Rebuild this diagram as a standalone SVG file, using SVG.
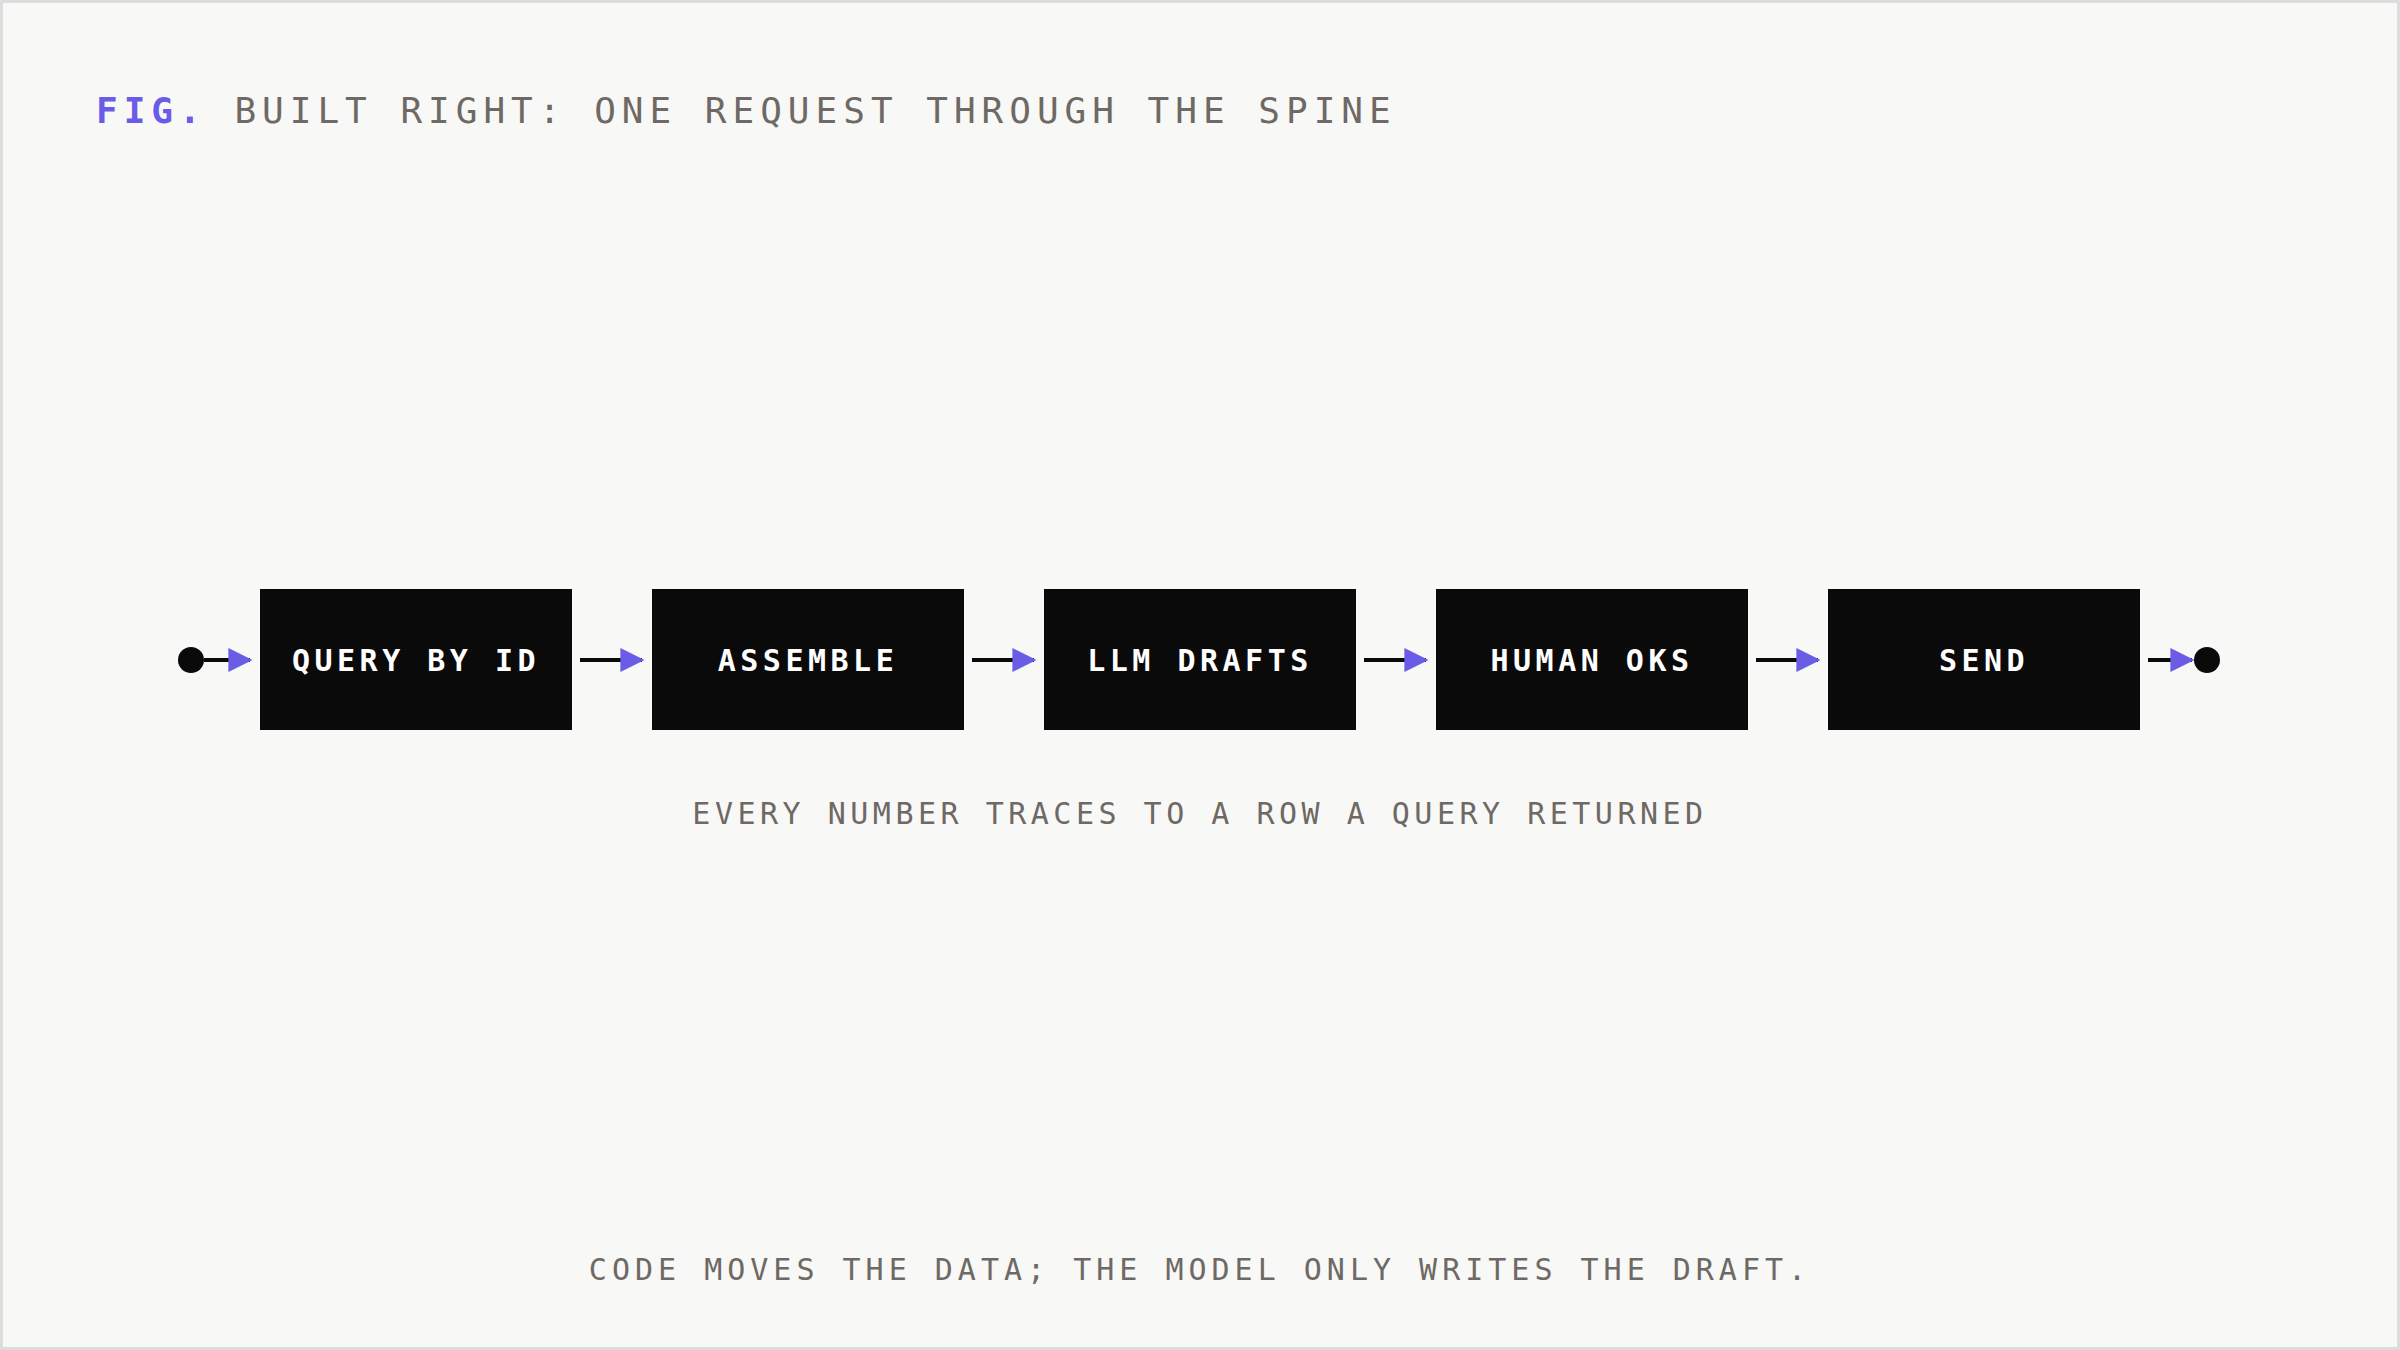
<svg xmlns="http://www.w3.org/2000/svg" width="2400" height="1350" viewBox="0 0 2400 1350">
<style>
.t{font-family:"DejaVu Sans Mono","Liberation Mono",monospace;fill:#6e6965}
.n{font-family:"DejaVu Sans Mono","Liberation Mono",monospace;font-size:30px;letter-spacing:4.5px;fill:#fff;font-weight:bold;text-anchor:middle;dominant-baseline:central}
.b{fill:#0a0a0a}
.c{stroke:#0a0a0a;stroke-width:4;fill:none;marker-end:url(#a)}
</style>
<defs><marker id="a" viewBox="0 0 10 10" refX="9" refY="5" markerWidth="6" markerHeight="6" orient="auto" markerUnits="strokeWidth"><path d="M0,0L10,5L0,10z" fill="#6b5ce7"/></marker></defs>
<rect x="1.5" y="1.5" width="2397" height="1347" fill="#f8f8f6" stroke="#dcdcdc" stroke-width="3"/>
<text class="t" x="96" y="123" font-size="36" letter-spacing="6"><tspan fill="#6b5ce7" font-weight="bold">FIG.</tspan> BUILT RIGHT: ONE REQUEST THROUGH THE SPINE</text>
<g id="start"><circle cx="191" cy="660" r="13" fill="#0a0a0a"/></g>
<g id="n1"><rect class="b" x="260" y="589" width="312" height="141"/><text class="n" x="416" y="660">QUERY BY ID</text></g>
<g id="n2"><rect class="b" x="652" y="589" width="312" height="141"/><text class="n" x="808" y="660">ASSEMBLE</text></g>
<g id="n3"><rect class="b" x="1044" y="589" width="312" height="141"/><text class="n" x="1200" y="660">LLM DRAFTS</text></g>
<g id="n4"><rect class="b" x="1436" y="589" width="312" height="141"/><text class="n" x="1592" y="660">HUMAN OKS</text></g>
<g id="n5"><rect class="b" x="1828" y="589" width="312" height="141"/><text class="n" x="1984" y="660">SEND</text></g>
<g id="end"><circle cx="2207" cy="660" r="13" fill="#0a0a0a"/></g>
<g id="connectors">
<line class="c" x1="204" y1="660" x2="250" y2="660"/>
<line class="c" x1="580" y1="660" x2="642" y2="660"/>
<line class="c" x1="972" y1="660" x2="1034" y2="660"/>
<line class="c" x1="1364" y1="660" x2="1426" y2="660"/>
<line class="c" x1="1756" y1="660" x2="1818" y2="660"/>
<line class="c" x1="2148" y1="660" x2="2192" y2="660"/>
</g>
<text class="t" x="1200" y="824" font-size="30" letter-spacing="4.5" text-anchor="middle">EVERY NUMBER TRACES TO A ROW A QUERY RETURNED</text>
<text class="t" x="1200" y="1280" font-size="30" letter-spacing="5" text-anchor="middle">CODE MOVES THE DATA; THE MODEL ONLY WRITES THE DRAFT.</text>
</svg>
